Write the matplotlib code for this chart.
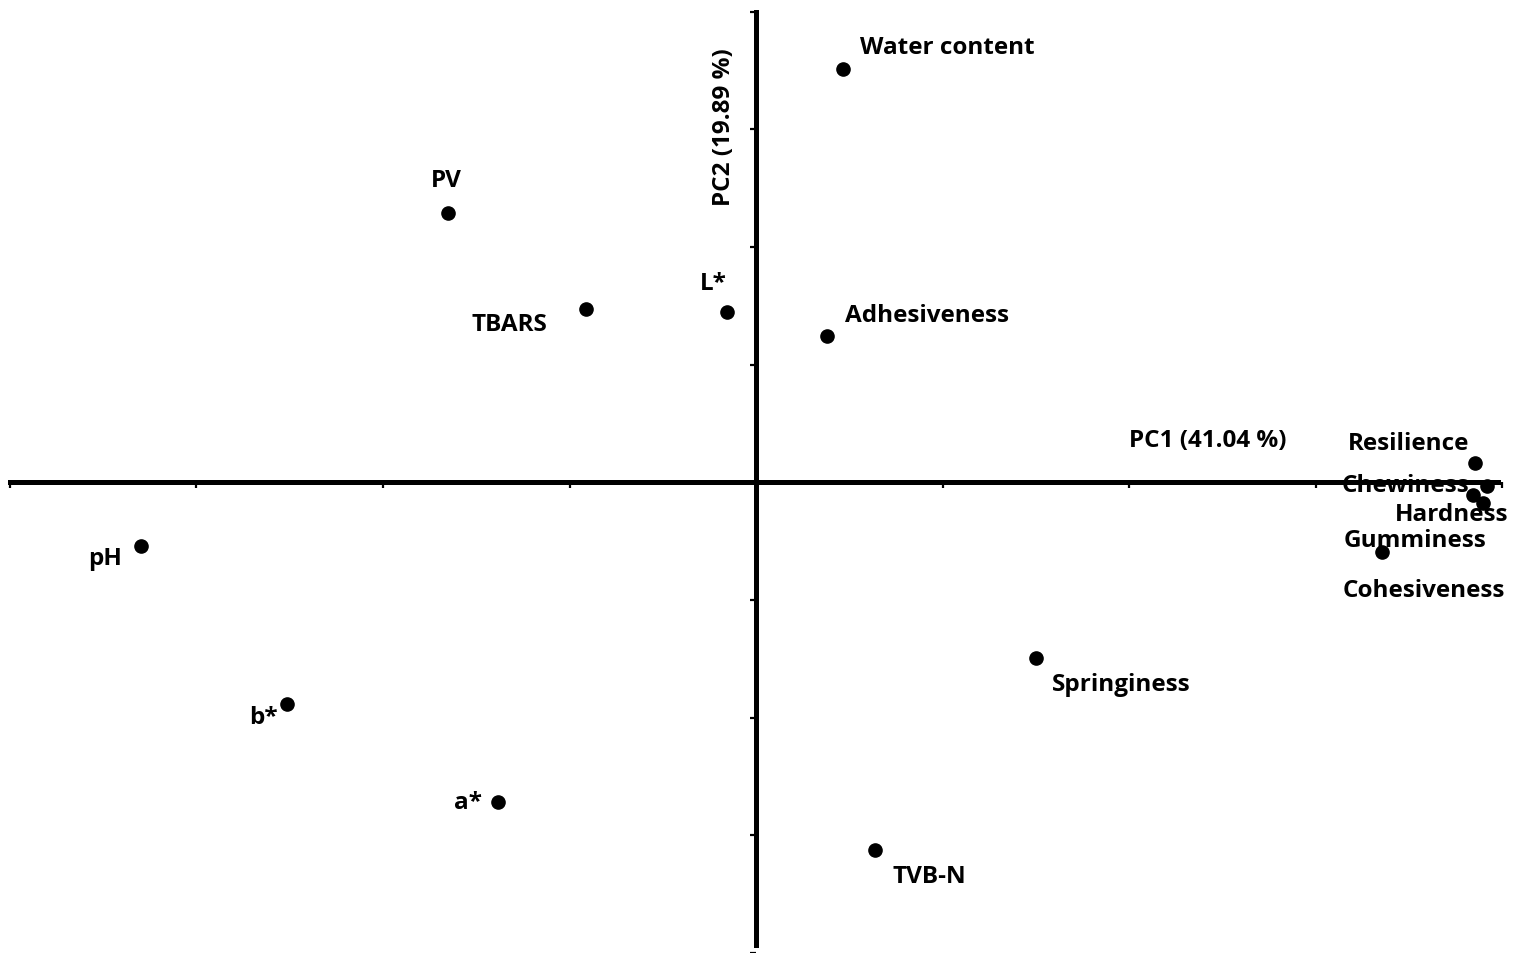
import numpy as np
import matplotlib
matplotlib.use("Agg")
import matplotlib.pyplot as plt

# loadings
variables = ["Water content", "PV", "TBARS", "L*", "Adhesiveness",
             "Resilience", "Chewiness", "Hardness", "Gumminess", "Cohesiveness",
             "pH", "Springiness", "b*", "a*", "TVB-N"]
pc1 = [0.117, -0.413, -0.228, -0.039, 0.095,
       0.964, 0.980, 0.975, 0.961, 0.839,
       -0.824, 0.375, -0.629, -0.346, 0.160]
pc2 = [0.878, 0.572, 0.369, 0.361, 0.312,
       0.042, -0.008, -0.044, -0.027, -0.148,
       -0.135, -0.373, -0.470, -0.679, -0.781]

# label offsets in pixels (dx, dy, horizontal alignment)
label_pos = {
    "Water content": (17, 22, "left"),
    "PV": (-2, 33, "center"),
    "TBARS": (-76, -15, "center"),
    "L*": (-14, 29, "center"),
    "Adhesiveness": (18, 21, "left"),
    "Resilience": (-67, 20, "center"),
    "Chewiness": (-82, 1, "center"),
    "Hardness": (-32, -11, "center"),
    "Gumminess": (-58, -45, "center"),
    "Cohesiveness": (42, -38, "center"),
    "pH": (-36, -12, "center"),
    "Springiness": (16, -26, "left"),
    "b*": (-23, -13, "center"),
    "a*": (-30, 0, "center"),
    "TVB-N": (17, -26, "left"),
}

plt.rcParams['font.family'] = ['Open Sans', 'DejaVu Sans']
plt.rcParams['font.weight'] = 'bold'

fig = plt.figure(figsize=(15.15, 9.54), dpi=100)
ax = fig.add_axes([0, 0, 1, 1])
ax.set_xlim(-1.0134, 1.0174)
ax.set_ylim(-0.9856, 1.027)

for s in ['top', 'right']:
    ax.spines[s].set_visible(False)
ax.spines['left'].set_position('zero')
ax.spines['bottom'].set_position('zero')
ax.spines['left'].set_bounds(-0.983, 1.0)
ax.spines['bottom'].set_bounds(-1.0, 0.995)
for s in ['left', 'bottom']:
    ax.spines[s].set_linewidth(3.6)
ax.set_xticks(np.arange(-1, 1.01, 0.25))
ax.set_yticks(np.arange(-1, 1.01, 0.25))
ax.tick_params(direction='out', length=4, width=1.6, labelleft=False, labelbottom=False)

ax.plot(pc1, pc2, 'o', color='black', markersize=9.5, linestyle='none', zorder=3)

for name, x, y in zip(variables, pc1, pc2):
    dx, dy, ha = label_pos[name]
    ax.annotate(name, (x, y), xytext=(dx, dy), textcoords='offset pixels',
                ha=ha, va='center', fontsize=17.5, fontweight='bold')

ax.text(0.605, 0.089, "PC1 (41.04 %)", ha='center', va='center', fontsize=17.5, fontweight='bold')
ax.text(-0.043, 0.757, "PC2 (19.89 %)", ha='center', va='center', rotation=90,
        fontsize=17.5, fontweight='bold')

fig.savefig("out.png", dpi=100)
